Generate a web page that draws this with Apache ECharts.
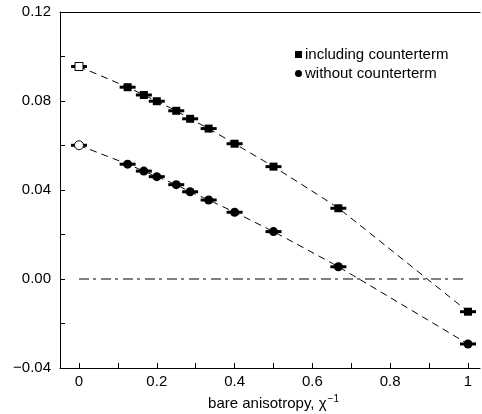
<!DOCTYPE html>
<html>
<head>
<meta charset="utf-8">
<script src="https://cdn.jsdelivr.net/npm/echarts@6/dist/echarts.min.js"></script>
<style>
  html, body { margin: 0; padding: 0; background: #fff; }
  #main { width: 482px; height: 414px; }
</style>
</head>
<body>
<div id="main"></div>
<script>
// data
var xs = [0, 0.125, 0.1667, 0.2, 0.25, 0.2857, 0.3333, 0.4, 0.5, 0.6667, 1];
var withCounterterm = [0.0955, 0.0862, 0.0827, 0.0799, 0.0756, 0.0720, 0.0676, 0.0608, 0.0505, 0.0318, -0.0147];
var withoutCounterterm = [0.0601, 0.0516, 0.0485, 0.0460, 0.0424, 0.0392, 0.0355, 0.0300, 0.0213, 0.0055, -0.0292];
var xTickLabels = [0, 0.2, 0.4, 0.6, 0.8, 1];
var yTickLabels = [-0.04, 0.00, 0.04, 0.08, 0.12];
var seriesNames = ['including counterterm', 'without counterterm'];

var FONT = 'Liberation Sans, Arial, sans-serif';

function pairs(ys) {
    return xs.map(function (x, i) { return [x, ys[i]]; });
}
// first point (x = 0) is drawn hollow
function markerData(ys) {
    return xs.map(function (x, i) {
        var d = { value: [x, ys[i]] };
        if (i === 0) d.itemStyle = { color: '#fff', borderColor: '#000', borderWidth: 1, opacity: 1 };
        return d;
    });
}
function isLabel(list, v) {
    return list.some(function (t) { return Math.abs(t - v) < 1e-9; });
}

// short horizontal bar through each point
function barItem(params, api) {
    var p = api.coord([api.value(0), api.value(1)]);
    return {
        type: 'rect',
        shape: { x: p[0] - 8, y: p[1] - 1.5, width: 16, height: 3 },
        style: { fill: '#000' }
    };
}

var myChart = echarts.init(document.getElementById('main'));

var option = {
    backgroundColor: '#fff',
    animation: false,
    textStyle: { fontFamily: FONT, color: '#000' },
    legend: {
        data: seriesNames,
        orient: 'vertical',
        left: 295,
        top: 47,
        padding: 0,
        itemWidth: 7,
        itemHeight: 7,
        itemGap: 4,
        textStyle: { fontFamily: FONT, fontSize: 15, color: '#000', lineHeight: 15, padding: [0, 0, 0, -2] }
    },
    grid: [
        { left: 60, right: 2, top: 12, bottom: 46, outerBoundsMode: 'none', containLabel: false },
        { left: 79, right: 14, top: 12, bottom: 46, outerBoundsMode: 'none', containLabel: false }
    ],
    xAxis: [
        {   // frame bottom
            type: 'value', gridIndex: 0, min: 0, max: 1,
            axisLine: { show: true, onZero: false, lineStyle: { color: '#000', width: 1 } },
            axisTick: { show: false }, axisLabel: { show: false }, splitLine: { show: false }
        },
        {   // frame top
            type: 'value', gridIndex: 0, position: 'top', min: 0, max: 1,
            axisLine: { show: true, onZero: false, lineStyle: { color: '#000', width: 1 } },
            axisTick: { show: false }, axisLabel: { show: false }, splitLine: { show: false }
        },
        {   // data axis, 0..1
            type: 'value', gridIndex: 1, min: 0, max: 1, interval: 0.1,
            axisLine: { show: false, onZero: false },
            axisTick: { show: true, inside: true, length: 5, lineStyle: { color: '#000' } },
            axisLabel: {
                margin: 6, fontSize: 15, fontFamily: FONT, color: '#000',
                formatter: function (v) { return isLabel(xTickLabels, v) ? String(+v.toFixed(1)) : ''; }
            },
            splitLine: { show: false },
            name: '{a|bare anisotropy, χ}{s|−1}',
            nameLocation: 'middle',
            nameGap: 25,
            nameTextStyle: {
                rich: {
                    a: { fontSize: 15, fontFamily: FONT, color: '#000' },
                    s: { fontSize: 10, fontFamily: FONT, color: '#000', verticalAlign: 'top', padding: [0, 0, 9, 1] }
                }
            }
        }
    ],
    yAxis: [
        {
            type: 'value', gridIndex: 0, min: -0.04, max: 0.12, interval: 0.02,
            axisLine: { show: true, onZero: false, lineStyle: { color: '#000', width: 1 } },
            axisTick: { show: true, inside: true, length: 5, lineStyle: { color: '#000' } },
            axisLabel: {
                margin: 9, fontSize: 15, fontFamily: FONT, color: '#000',
                formatter: function (v) {
                    if (!isLabel(yTickLabels, v)) return '';
                    return (v < -1e-9 ? '\u2212' : '') + Math.abs(v).toFixed(2);
                }
            },
            splitLine: { show: false }
        },
        {
            type: 'value', gridIndex: 1, min: -0.04, max: 0.12,
            show: false, splitLine: { show: false }
        }
    ],
    series: [
        {
            type: 'line', xAxisIndex: 2, yAxisIndex: 1, silent: true,
            data: [[0, 0], [0.99, 0]], showSymbol: false,
            lineStyle: { color: '#000', width: 1.2, type: [10, 4, 3, 5] }
        },
        {
            type: 'line', xAxisIndex: 2, yAxisIndex: 1, silent: true,
            data: pairs(withCounterterm), showSymbol: false,
            smooth: 0.1,
            lineStyle: { color: '#000', width: 1, type: [7, 5] }
        },
        {
            type: 'line', xAxisIndex: 2, yAxisIndex: 1, silent: true,
            data: pairs(withoutCounterterm), showSymbol: false,
            smooth: 0.1,
            lineStyle: { color: '#000', width: 1, type: [7, 5] }
        },
        {
            type: 'custom', xAxisIndex: 2, yAxisIndex: 1, clip: false, z: 3,
            renderItem: barItem, data: pairs(withCounterterm)
        },
        {
            type: 'custom', xAxisIndex: 2, yAxisIndex: 1, clip: false, z: 3,
            renderItem: barItem, data: pairs(withoutCounterterm)
        },
        {
            name: seriesNames[0], type: 'scatter', xAxisIndex: 2, yAxisIndex: 1, z: 4,
            symbol: 'rect', symbolSize: 8, clip: false,
            itemStyle: { color: '#000', opacity: 1 },
            data: markerData(withCounterterm)
        },
        {
            name: seriesNames[1], type: 'scatter', xAxisIndex: 2, yAxisIndex: 1, z: 4,
            symbol: 'circle', symbolSize: 9, clip: false,
            itemStyle: { color: '#000', opacity: 1 },
            data: markerData(withoutCounterterm)
        }
    ]
};

myChart.setOption(option);
</script>
</body>
</html>
